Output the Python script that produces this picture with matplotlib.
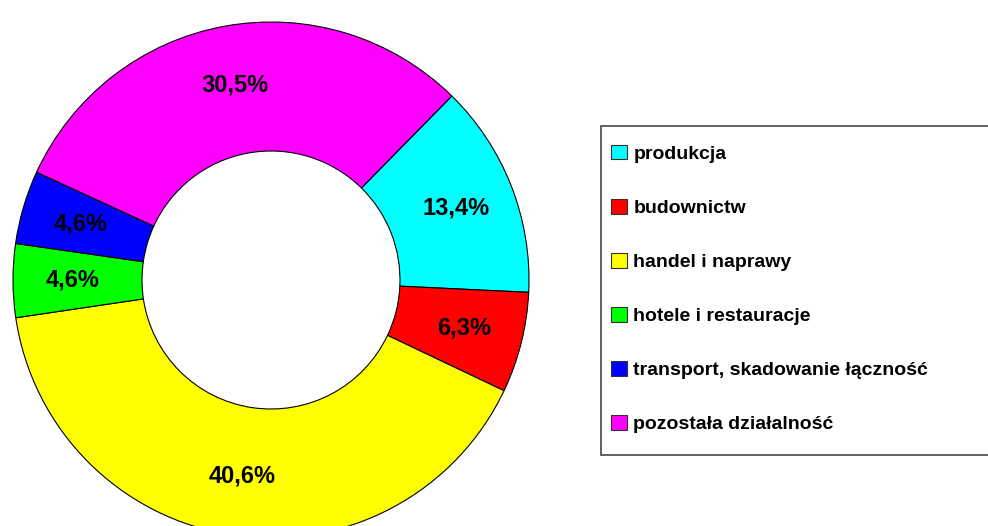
import matplotlib.pyplot as plt
from matplotlib.patches import Rectangle

# data
categories = ["produkcja", "budownictw", "handel i naprawy", "hotele i restauracje",
              "transport, skadowanie łączność", "pozostała działalność"]
shares = [13.4, 6.3, 40.6, 4.6, 4.6, 30.5]
colors = ["#00FFFF", "#FF0000", "#FFFF00", "#00FF00", "#0000FF", "#FF00FF"]

plt.rcParams['font.family'] = ['Liberation Sans', 'DejaVu Sans']

W, H = 988, 526
fig = plt.figure(figsize=(W / 100, H / 100), dpi=100)

# donut axes: center (271, 280) px, radius 258 px
cx, cy, r = 271, 280, 258
ax = fig.add_axes([(cx - r) / W, (H - cy - r) / H, 2 * r / W, 2 * r / H])

wedges, texts, autotexts = ax.pie(
    shares, colors=colors, startangle=45.5, counterclock=False,
    autopct=lambda p: f"{p:.1f}%".replace(".", ","), pctdistance=0.77,
    wedgeprops=dict(width=0.5, edgecolor="black", linewidth=0.8),
    textprops=dict(fontsize=17, fontweight="bold", color="black"))
ax.set_xlim(-1, 1)
ax.set_ylim(-1, 1)
ax.set_aspect("equal")
ax.axis("off")

# legend box (runs off the right edge like the original)
fig.patches.append(Rectangle((601 / W, 1 - 455 / H), 400 / W, (455 - 126) / H,
                             transform=fig.transFigure, facecolor="white",
                             edgecolor="#555555", linewidth=1.3, zorder=0))

handles = [Rectangle((0, 0), 1, 1, facecolor=c, edgecolor="#333333", linewidth=0.8)
           for c in colors]
fig.legend(handles, categories, loc="center left",
           bbox_to_anchor=(611 / W, 1 - 289 / H), frameon=False,
           prop=dict(size=14, weight="bold"), labelspacing=1.85,
           handlelength=0.8, handleheight=0.78, handletextpad=0.35,
           borderpad=0, borderaxespad=0)

fig.savefig("out.png", dpi=100)
